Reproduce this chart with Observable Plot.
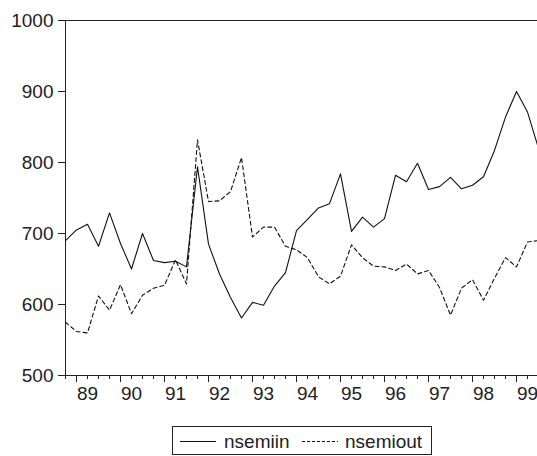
<!DOCTYPE html>
<html>
<head>
<meta charset="utf-8">
<script src="https://cdn.jsdelivr.net/npm/d3@7"></script>
<script src="https://cdn.jsdelivr.net/npm/@observablehq/plot@0.6"></script>
<style>
  html, body { margin: 0; padding: 0; background: white; overflow: hidden; }
  #wrap { position: relative; width: 537px; height: 456px; overflow: hidden; }
  #legend { position: absolute; left: 172px; top: 426px; }
</style>
</head>
<body>
<div id="wrap">
  <div id="chart"></div>
  <svg id="legend" width="262" height="30"></svg>
</div>
<script>
const periods = [
  "1988Q3","1988Q4",
  "1989Q1","1989Q2","1989Q3","1989Q4",
  "1990Q1","1990Q2","1990Q3","1990Q4",
  "1991Q1","1991Q2","1991Q3","1991Q4",
  "1992Q1","1992Q2","1992Q3","1992Q4",
  "1993Q1","1993Q2","1993Q3","1993Q4",
  "1994Q1","1994Q2","1994Q3","1994Q4",
  "1995Q1","1995Q2","1995Q3","1995Q4",
  "1996Q1","1996Q2","1996Q3","1996Q4",
  "1997Q1","1997Q2","1997Q3","1997Q4",
  "1998Q1","1998Q2","1998Q3","1998Q4",
  "1999Q1","1999Q2"
];
const nsemiin = [690,705,713,682,729,686,650,700,662,659,661,653,794,685,643,610,581,603,599,626,645,704,720,736,742,784,703,723,709,721,782,773,799,762,766,779,763,768,780,817,864,900,871,820];
const nsemiout = [575,562,560,612,592,628,587,613,623,627,663,629,832,745,746,759,807,695,709,709,682,677,666,639,629,640,684,666,654,653,648,657,643,648,624,585,623,635,606,637,666,653,688,690];
const yTicks = [500,600,700,800,900,1000];
const yearLabels = ["89","90","91","92","93","94","95","96","97","98","99"];
const seriesNames = ["nsemiin","nsemiout"];

const rowsIn = periods.map((p, i) => ({period: p, value: nsemiin[i]}));
const rowsOut = periods.map((p, i) => ({period: p, value: nsemiout[i]}));
const q1 = periods.filter(p => p.endsWith("Q1"));
const q4 = periods.filter(p => p.endsWith("Q4"));
const labelOf = new Map(q1.map((p, i) => [p, yearLabels[i]]));

const ink = "#222";
const chart = Plot.plot({
  width: 537,
  height: 415,
  marginLeft: 65,
  marginRight: 0,
  marginTop: 20,
  marginBottom: 40,
  style: {fontFamily: "'Liberation Sans', Arial, sans-serif", fontSize: "19px", color: ink, background: "white"},
  x: {type: "point", domain: periods, range: [65, 538], padding: 0},
  y: {domain: [500, 1000]},
  marks: [
    Plot.ruleY([1000], {stroke: ink}),
    Plot.ruleY([500], {stroke: ink}),
    Plot.ruleX([periods[0]], {stroke: ink}),
    Plot.axisY({ticks: yTicks, tickSize: 7, tickPadding: 5, tickFormat: d => String(d), label: null}),
    Plot.axisX({ticks: periods, tickSize: 4, tickFormat: () => "", label: null}),
    Plot.axisX({ticks: q4, tickSize: 7, tickFormat: () => "", label: null}),
    Plot.axisX({ticks: q1, tickSize: 0, tickPadding: 11, tickFormat: d => labelOf.get(d), label: null}),
    Plot.line(rowsIn, {x: "period", y: "value", stroke: "#111", strokeWidth: 1.1}),
    Plot.line(rowsOut, {x: "period", y: "value", stroke: "#111", strokeWidth: 1.1, strokeDasharray: "4,3"})
  ]
});
document.getElementById("chart").appendChild(chart);

// legend
const lg = d3.select("#legend");
lg.append("rect").attr("x", 0.5).attr("y", 0.5).attr("width", 259).attr("height", 28)
  .attr("fill", "white").attr("stroke", ink);
lg.append("line").attr("x1", 8).attr("x2", 44).attr("y1", 15.5).attr("y2", 15.5).attr("stroke", "#111");
lg.append("text").attr("x", 52).attr("y", 21.5).text(seriesNames[0])
  .attr("font-family", "'Liberation Sans', Arial, sans-serif").attr("font-size", 19).attr("fill", ink);
lg.append("line").attr("x1", 130).attr("x2", 166).attr("y1", 15.5).attr("y2", 15.5)
  .attr("stroke", "#111").attr("stroke-dasharray", "3,2");
lg.append("text").attr("x", 173).attr("y", 21.5).text(seriesNames[1])
  .attr("font-family", "'Liberation Sans', Arial, sans-serif").attr("font-size", 19).attr("fill", ink);
</script>
</body>
</html>
